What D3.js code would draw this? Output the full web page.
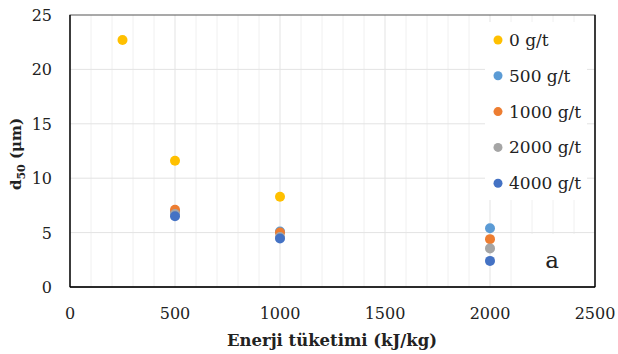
<!DOCTYPE html>
<html>
<head>
<meta charset="utf-8">
<script src="https://cdn.jsdelivr.net/npm/d3@7"></script>
<style>
  body { margin: 0; background: #fff; }
  text { font-family: "DejaVu Serif", "Liberation Serif", serif; fill: #222; }
</style>
</head>
<body>
<div id="chart"></div>
<script>
// data
const energy = [250, 500, 1000, 2000];
const seriesNames = ["0 g/t", "500 g/t", "1000 g/t", "2000 g/t", "4000 g/t"];
const seriesColors = ["#FFC000", "#5B9BD5", "#ED7D31", "#A5A5A5", "#4472C4"];
const d0 = [22.7, 11.6, 8.3, null];
const d500 = [null, 6.9, 5.1, 5.4];
const d1000 = [null, 7.1, 5.0, 4.4];
const d2000 = [null, 6.7, 4.6, 3.55];
const d4000 = [null, 6.5, 4.45, 2.4];
const xTicks = [0, 500, 1000, 1500, 2000, 2500];
const yTicks = [0, 5, 10, 15, 20, 25];

const allSeries = [d0, d500, d1000, d2000, d4000];

const width = 618, height = 354;
const margin = {top: 15, right: 23, bottom: 67, left: 70};

const svg = d3.select("#chart").append("svg")
    .attr("width", width)
    .attr("height", height);

const x = d3.scaleLinear().domain([0, 2500]).range([margin.left, width - margin.right]);
const y = d3.scaleLinear().domain([0, 25]).range([height - margin.bottom, margin.top]);

// minor vertical gridlines
svg.append("g")
    .selectAll("line")
    .data(d3.range(100, 2500, 100).filter(v => v % 500 != 0))
    .enter().append("line")
    .attr("x1", d => x(d)).attr("x2", d => x(d))
    .attr("y1", y(0)).attr("y2", y(25))
    .style("stroke", "#f0f0f0").style("stroke-width", 1);

// major gridlines
svg.append("g")
    .selectAll("line")
    .data(xTicks.slice(1, -1))
    .enter().append("line")
    .attr("x1", d => x(d)).attr("x2", d => x(d))
    .attr("y1", y(0)).attr("y2", y(25))
    .style("stroke", "#e3e3e3").style("stroke-width", 1);

svg.append("g")
    .selectAll("line")
    .data(yTicks.slice(1, -1))
    .enter().append("line")
    .attr("x1", x(0)).attr("x2", x(2500))
    .attr("y1", d => y(d)).attr("y2", d => y(d))
    .style("stroke", "#e3e3e3").style("stroke-width", 1);

// white boxes of legend and "a" label (they cover the grid)
svg.append("rect")
    .attr("x", 485).attr("y", 22).attr("width", 102).attr("height", 178)
    .style("fill", "#fff");
svg.append("rect")
    .attr("x", 525).attr("y", 234).attr("width", 69).attr("height", 52)
    .style("fill", "#fff");

// frame
svg.append("rect")
    .attr("x", x(0)).attr("y", y(25))
    .attr("width", x(2500) - x(0)).attr("height", y(0) - y(25))
    .style("fill", "none").style("stroke", "#555").style("stroke-width", 1);
svg.append("line")
    .attr("x1", x(0)).attr("x2", x(0)).attr("y1", y(25)).attr("y2", y(0))
    .style("stroke", "#000").style("stroke-width", 1.3);
svg.append("line")
    .attr("x1", x(0)).attr("x2", x(2500)).attr("y1", y(0)).attr("y2", y(0))
    .style("stroke", "#000").style("stroke-width", 1.3);
svg.append("line")
    .attr("x1", x(2500)).attr("x2", x(2500)).attr("y1", y(25)).attr("y2", y(0))
    .style("stroke", "#000").style("stroke-width", 1.3);

// tick labels
svg.append("g")
    .selectAll("text")
    .data(xTicks)
    .enter().append("text")
    .attr("x", d => x(d))
    .attr("y", y(0) + 32)
    .attr("text-anchor", "middle")
    .style("font-size", "16px")
    .text(d => d);

svg.append("g")
    .selectAll("text")
    .data(yTicks)
    .enter().append("text")
    .attr("x", x(0) - 18)
    .attr("y", d => y(d) + 6)
    .attr("text-anchor", "end")
    .style("font-size", "16px")
    .text(d => d);

// axis titles
svg.append("text")
    .attr("x", 332).attr("y", 346)
    .attr("text-anchor", "middle")
    .attr("textLength", 210)
    .attr("lengthAdjust", "spacingAndGlyphs")
    .style("font-size", "16px").style("font-weight", "bold")
    .text("Enerji tüketimi (kJ/kg)");

const yt = svg.append("text")
    .attr("transform", "translate(21,154) rotate(-90)")
    .attr("text-anchor", "middle")
    .style("font-size", "15px").style("font-weight", "bold");
yt.append("tspan").text("d");
yt.append("tspan").attr("dy", 4).style("font-size", "11px").text("50");
yt.append("tspan").attr("dy", -4).text(" (μm)");

// points
allSeries.forEach((vals, i) => {
    svg.append("g")
        .selectAll("circle")
        .data(energy.map((e, j) => ({x: e, y: vals[j]})).filter(d => d.y != null))
        .enter().append("circle")
        .attr("cx", d => x(d.x))
        .attr("cy", d => y(d.y))
        .attr("r", 5)
        .style("fill", seriesColors[i]);
});

// legend
const leg = svg.append("g").selectAll("g")
    .data(seriesNames)
    .enter().append("g")
    .attr("transform", (d, i) => "translate(498," + (40 + i * 35.8) + ")");
leg.append("circle")
    .attr("r", 4.5)
    .style("fill", (d, i) => seriesColors[i]);
leg.append("text")
    .attr("x", 11).attr("y", 6)
    .style("font-size", "17px")
    .text(d => d);

svg.append("text")
    .attr("x", 552).attr("y", 268)
    .attr("text-anchor", "middle")
    .style("font-size", "23px")
    .text("a");
</script>
</body>
</html>
